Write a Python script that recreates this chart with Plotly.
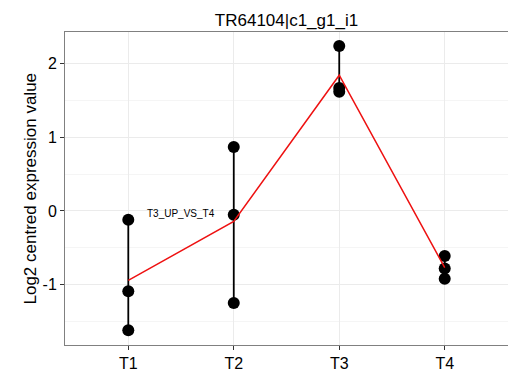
import plotly.graph_objects as go

categories = ["T1", "T2", "T3", "T4"]
values_T1 = [-0.12, -1.09, -1.62]
values_T2 = [0.87, -0.05, -1.25]
values_T3 = [2.24, 1.67, 1.62]
values_T4 = [-0.61, -0.78, -0.92]
y_ticks = [-1, 0, 1, 2]
y_minor = [-1.5, -0.5, 0.5, 1.5]
title_text = "TR64104|c1_g1_i1"
y_label = "Log2 centred expression value"
note_text = "T3_UP_VS_T4"

groups = [values_T1, values_T2, values_T3, values_T4]
means = [sum(g) / len(g) for g in groups]

FONT = "Liberation Sans, Arial, sans-serif"

fig = go.Figure()

# vertical range lines
lx, ly = [], []
for c, g in zip(categories, groups):
    lx += [c, c, None]
    ly += [min(g), max(g), None]
fig.add_trace(go.Scatter(x=lx, y=ly, mode="lines",
                         line=dict(color="black", width=1.8), hoverinfo="skip"))

# points
px, py = [], []
for c, g in zip(categories, groups):
    px += [c] * len(g)
    py += g
fig.add_trace(go.Scatter(x=px, y=py, mode="markers",
                         marker=dict(color="black", size=12)))

# mean line
fig.add_trace(go.Scatter(x=categories, y=means, mode="lines",
                         line=dict(color="#ee1111", width=1.5)))

fig.add_annotation(x=0.5, y=-0.03, xref="x", yref="y", text=note_text,
                   showarrow=False, font=dict(family=FONT, size=10, color="black"))

fig.add_annotation(x=0, y=0.5, xref="paper", yref="paper", text=y_label,
                   textangle=-90, showarrow=False, xshift=-35,
                   xanchor="center", yanchor="middle",
                   font=dict(family=FONT, size=17, color="black"))

fig.update_layout(
    width=508, height=374,
    margin=dict(l=65, r=0, t=32, b=29, autoexpand=False),
    paper_bgcolor="white", plot_bgcolor="white",
    showlegend=False,
    title=dict(text=title_text, x=(65 + 508) / 2 / 508, xanchor="center",
               y=1 - 20 / 374, yanchor="middle", yref="container",
               font=dict(family=FONT, size=17, color="black")),
    font=dict(family=FONT),
)

fig.update_xaxes(type="category", categoryorder="array", categoryarray=categories,
                 range=[-0.6, 3.6], automargin=False,
                 showgrid=True, gridcolor="#ebebeb", gridwidth=1,
                 showline=True, linecolor="#808080", linewidth=1, mirror=True,
                 ticks="outside", ticklen=4, tickcolor="#333333",
                 tickfont=dict(family=FONT, size=16, color="black"),
                 zeroline=False)

fig.update_yaxes(range=[-1.82, 2.43], tickvals=y_ticks, automargin=False,
                 ticktext=[str(v) for v in y_ticks],
                 showgrid=True, gridcolor="#ebebeb", gridwidth=1,
                 minor=dict(tickvals=y_minor, showgrid=True, gridcolor="#f5f5f5"),
                 showline=True, linecolor="#808080", linewidth=1, mirror=False,
                 ticks="outside", ticklen=4, tickcolor="#333333",
                 tickfont=dict(family=FONT, size=16, color="black"),
                 zeroline=False)

fig.write_html("out.html", config={"displayModeBar": False},
               post_script="document.body.style.margin='0';document.body.style.overflow='hidden';document.documentElement.style.overflow='hidden';")
